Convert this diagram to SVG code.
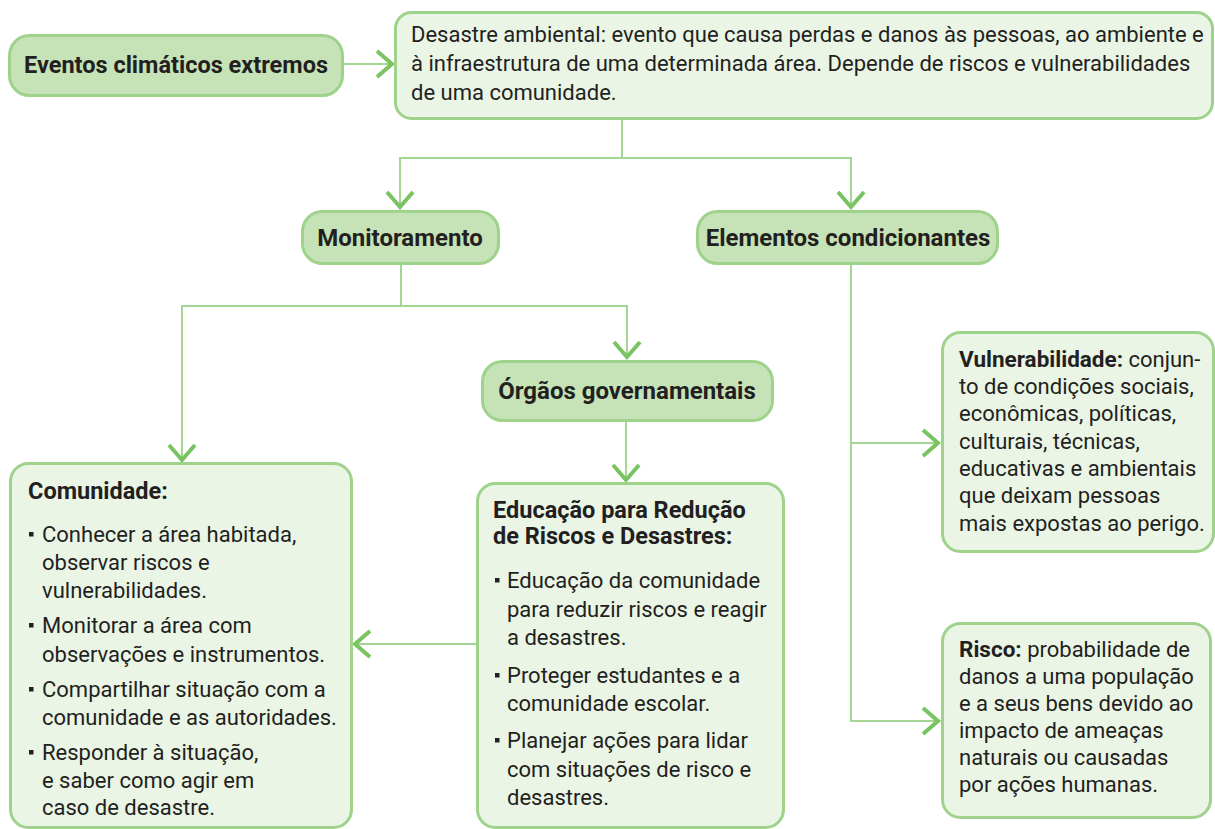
<svg xmlns="http://www.w3.org/2000/svg" width="1215" height="829" viewBox="0 0 1215 829">
<style>
.dark{fill:#c6e3b8;stroke:#9fd38c;stroke-width:3}
.light{fill:#eaf5e6;stroke:#9fd38c;stroke-width:3}
.t{font-family:Roboto,"Liberation Sans",sans-serif;font-size:22px;fill:#231f20}
.b{font-family:Roboto,"Liberation Sans",sans-serif;font-size:23.5px;font-weight:bold;fill:#231f20}
.bl{font-size:24px}
.hb{font-weight:bold;font-size:22.5px}
.c{text-anchor:middle}
.con path{fill:none;stroke:#a3d692;stroke-width:2}
.bul{fill:#231f20}
</style>
<defs>
<marker id="ch" markerUnits="userSpaceOnUse" viewBox="0 0 22 32" markerWidth="22" markerHeight="32" refX="18" refY="16" orient="auto">
<path d="M3,3 L18,16 L3,29" fill="none" stroke="#79c362" stroke-width="4"/>
</marker>
</defs>
<g class="con">
<path d="M343,64 H392" marker-end="url(#ch)"/>
<path d="M622,118 V158"/>
<path d="M622,158 H400 V207" marker-end="url(#ch)"/>
<path d="M622,158 H851 V207" marker-end="url(#ch)"/>
<path d="M401,264 V306"/>
<path d="M401,306 H182 V460" marker-end="url(#ch)"/>
<path d="M401,306 H627 V357" marker-end="url(#ch)"/>
<path d="M626,421 V480" marker-end="url(#ch)"/>
<path d="M476,644 H355" marker-end="url(#ch)"/>
<path d="M851,264 V721 H938" marker-end="url(#ch)"/>
<path d="M851,443 H938" marker-end="url(#ch)"/>
</g>
<g id="eventos">
<rect class="dark" x="9.5" y="35.5" width="333" height="60" rx="20"/>
<text class="b c" x="176" y="73">Eventos climáticos extremos</text>
</g>
<g id="desastre">
<rect class="light" x="395.5" y="12.5" width="817" height="106" rx="16"/>
<text class="t" x="411" y="42">Desastre ambiental: evento que causa perdas e danos às pessoas, ao ambiente e</text>
<text class="t" x="411" y="71">à infraestrutura de uma determinada área. Depende de riscos e vulnerabilidades</text>
<text class="t" x="411" y="100">de uma comunidade.</text>
</g>
<g id="monitoramento">
<rect class="dark" x="302.5" y="211.5" width="196" height="52" rx="20"/>
<text class="b bl c" x="400" y="246">Monitoramento</text>
</g>
<g id="elementos">
<rect class="dark" x="697.5" y="211.5" width="300" height="52" rx="20"/>
<text class="b bl c" x="848" y="246">Elementos condicionantes</text>
</g>
<g id="orgaos">
<rect class="dark" x="482.5" y="361.5" width="290" height="59" rx="20"/>
<text class="b bl c" x="627" y="399">Órgãos governamentais</text>
</g>
<g id="comunidade">
<rect class="light" x="10.5" y="463.5" width="341" height="364" rx="18"/>
<text class="b" x="28" y="499">Comunidade:</text>
<g class="bul">
<rect x="29" y="532" width="4.5" height="4.5"/>
<rect x="29" y="623" width="4.5" height="4.5"/>
<rect x="29" y="687" width="4.5" height="4.5"/>
<rect x="29" y="750" width="4.5" height="4.5"/>
</g>
<text class="t" x="42" y="542">Conhecer a área habitada,</text>
<text class="t" x="42" y="570">observar riscos e</text>
<text class="t" x="42" y="598">vulnerabilidades.</text>
<text class="t" x="42" y="633">Monitorar a área com</text>
<text class="t" x="42" y="662">observações e instrumentos.</text>
<text class="t" x="42" y="697">Compartilhar situação com a</text>
<text class="t" x="42" y="725">comunidade e as autoridades.</text>
<text class="t" x="42" y="760">Responder à situação,</text>
<text class="t" x="42" y="788">e saber como agir em</text>
<text class="t" x="42" y="815">caso de desastre.</text>
</g>
<g id="educacao">
<rect class="light" x="477.5" y="483.5" width="306" height="344" rx="18"/>
<text class="b" x="493" y="518">Educação para Redução</text>
<text class="b" x="493" y="544">de Riscos e Desastres:</text>
<g class="bul">
<rect x="495" y="578" width="4.5" height="4.5"/>
<rect x="495" y="673" width="4.5" height="4.5"/>
<rect x="495" y="738" width="4.5" height="4.5"/>
</g>
<text class="t" x="507" y="588">Educação da comunidade</text>
<text class="t" x="507" y="617">para reduzir riscos e reagir</text>
<text class="t" x="507" y="645">a desastres.</text>
<text class="t" x="507" y="683">Proteger estudantes e a</text>
<text class="t" x="507" y="711">comunidade escolar.</text>
<text class="t" x="507" y="748">Planejar ações para lidar</text>
<text class="t" x="507" y="777">com situações de risco e</text>
<text class="t" x="507" y="805">desastres.</text>
</g>
<g id="vulnerabilidade">
<rect class="light" x="942.5" y="332.5" width="271" height="219" rx="18"/>
<text class="t" x="959" y="367"><tspan class="hb">Vulnerabilidade:</tspan> conjun-</text>
<text class="t" x="959" y="394">to de condições sociais,</text>
<text class="t" x="959" y="421">econômicas, políticas,</text>
<text class="t" x="959" y="449">culturais, técnicas,</text>
<text class="t" x="959" y="476">educativas e ambientais</text>
<text class="t" x="959" y="503">que deixam pessoas</text>
<text class="t" x="959" y="531">mais expostas ao perigo.</text>
</g>
<g id="risco">
<rect class="light" x="942.5" y="623.5" width="268" height="194" rx="18"/>
<text class="t" x="959" y="657"><tspan class="hb">Risco:</tspan> probabilidade de</text>
<text class="t" x="959" y="684">danos a uma população</text>
<text class="t" x="959" y="711">e a seus bens devido ao</text>
<text class="t" x="959" y="738">impacto de ameaças</text>
<text class="t" x="959" y="765">naturais ou causadas</text>
<text class="t" x="959" y="792">por ações humanas.</text>
</g>
</svg>
